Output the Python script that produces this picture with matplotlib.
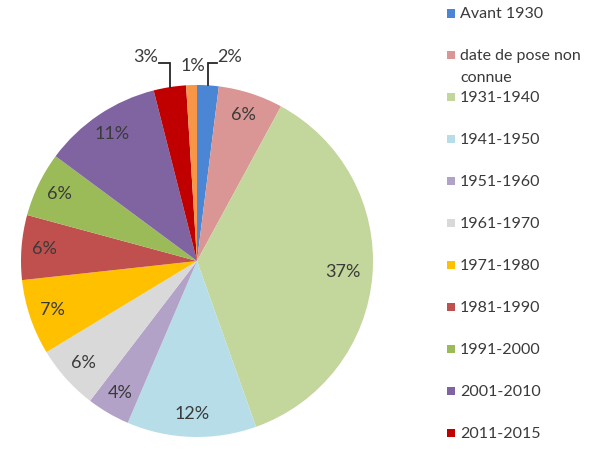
import numpy as np
import matplotlib.pyplot as plt
from matplotlib.patches import Rectangle

# slice data, clockwise from 12 o'clock
labels = ['Avant 1930', 'date de pose non\nconnue', '1931-1940', '1941-1950',
          '1951-1960', '1961-1970', '1971-1980', '1981-1990', '1991-2000',
          '2001-2010', '2011-2015', 'Après 2015']
shares = [2, 6, 37, 12, 4, 6, 7, 6, 6, 11, 3, 1]
colors = ['#4A86D4', '#D99694', '#C3D69B', '#B7DEE8', '#B3A2C7', '#D9D9D9',
          '#FFC000', '#C0504D', '#9BBB59', '#8064A2', '#C00000', '#F79646']
n_legend = 11  # the last entry is cut off in the source picture

plt.rcParams['font.family'] = ['Lato', 'DejaVu Sans']
txt_col = '#3a3a3a'
lab_size = 13

fig = plt.figure(figsize=(5.97, 4.5), dpi=100)
W, H = 597, 450
cx, cy, r = 197, 261, 176
ax = fig.add_axes([(cx - r) / W, (H - cy - r) / H, 2 * r / W, 2 * r / H])

wedges, _ = ax.pie(shares, colors=colors, startangle=90, counterclock=False,
                   wedgeprops=dict(linewidth=0))
ax.set_xlim(-1, 1)
ax.set_ylim(-1, 1)
ax.set_aspect('equal')
ax.axis('off')

# percent labels inside the slices
for w, s in zip(wedges, shares):
    mid = np.deg2rad((w.theta1 + w.theta2) / 2)
    x, y = np.cos(mid), np.sin(mid)
    if s >= 4:
        rad = 0.83 if s > 30 else 0.87
        ax.text(rad * x, rad * y, f'{s}%', ha='center', va='center',
                fontsize=lab_size, color=txt_col)

# small slices: labels outside with elbow leaders
small = {0: (0.05, 'left'), 10: (-0.06, 'right')}
for i, (dx, ha) in small.items():
    w = wedges[i]
    mid = np.deg2rad((w.theta1 + w.theta2) / 2)
    x0, y0 = np.cos(mid), np.sin(mid)
    ytop = 1.125
    ax.plot([x0, x0, x0 + dx], [y0, ytop, ytop], color='#262626', lw=1.3,
            clip_on=False, solid_joinstyle='miter')
    ax.text(x0 + dx + (0.005 if ha == 'left' else -0.005), ytop + 0.035,
            f'{shares[i]}%', ha=ha, va='center', fontsize=lab_size, color=txt_col)
w = wedges[11]
mid = np.deg2rad((w.theta1 + w.theta2) / 2)
ax.text(np.cos(mid) + 0.01, 1.11, f'{shares[11]}%', ha='center', va='center',
        fontsize=lab_size, color=txt_col)

# legend drawn by hand (Excel-like layout)
for i in range(n_legend):
    yc = 13.5 + 41.9 * i
    fig.patches.append(Rectangle((447 / W, 1 - (yc + 4) / H), 8 / W, 8 / H,
                                 transform=fig.transFigure,
                                 facecolor=colors[i], edgecolor='none'))
    for k, line in enumerate(labels[i].split('\n')):
        fig.text(460 / W, 1 - (yc + 1 + 21.5 * k) / H, line, ha='left',
                 va='center', fontsize=11.5, color=txt_col)

fig.savefig('out.png', dpi=100)
